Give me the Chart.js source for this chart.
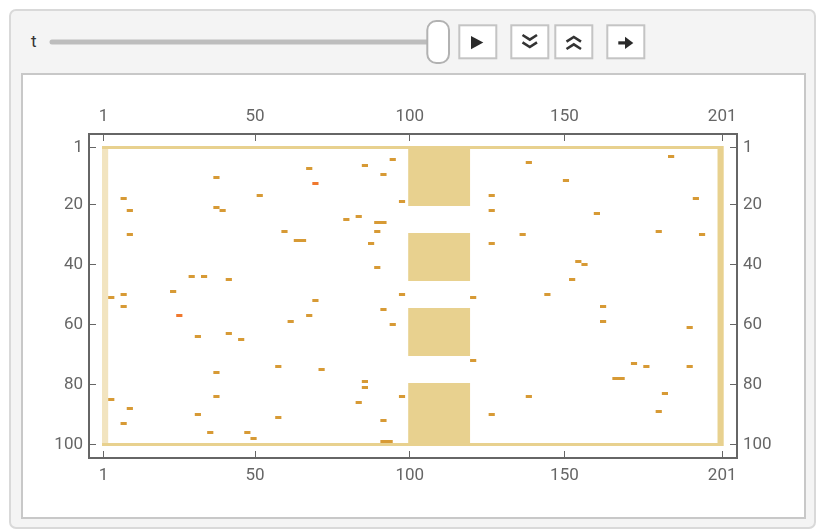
<!DOCTYPE html>
<html>
<head>
<meta charset="utf-8">
<title>ArrayPlot t</title>
<script src="https://cdn.jsdelivr.net/npm/chart.js@4.4.1/dist/chart.umd.min.js"></script>
<style>
  html, body { margin: 0; padding: 0; background: #fff; width: 824px; height: 532px; overflow: hidden;
               font-family: Roboto, "Noto Sans", sans-serif; }
  #outerPanel { position: absolute; left: 9px; top: 9px; width: 807px; height: 520px; box-sizing: border-box;
                background: #f4f4f4; border: 2px solid #d9d9d9; border-radius: 7px; }
  #innerPanel { position: absolute; left: 21px; top: 73px; width: 785px; height: 446px; box-sizing: border-box;
                background: #fff; border: 2px solid #c8c8c8; }
  #tLabel { position: absolute; left: 31px; top: 31px; font-size: 17px; line-height: 20px; color: #333; }
  #controls { position: absolute; left: 0; top: 0; }
  #chart { position: absolute; left: 0; top: 0; }
</style>
</head>
<body>
<div id="outerPanel"></div>
<div id="innerPanel"></div>
<div id="tLabel">t</div>
<svg id="controls" width="824" height="74">
  <line x1="52" y1="42" x2="432" y2="42" stroke="#bdbdbd" stroke-width="5" stroke-linecap="round"/>
  <rect x="427.3" y="21" width="21.7" height="42" rx="9" fill="#fff" stroke="#b2b2b2" stroke-width="2"/>
  <!-- play -->
  <rect x="459.3" y="25.3" width="37" height="33" fill="#fff" stroke="#c4c4c4" stroke-width="2"/>
  <path d="M471 36 L483.3 42.6 L471 49.3 Z" fill="#2a2a2a"/>
  <!-- slower -->
  <rect x="511.3" y="25.3" width="37" height="33" fill="#fff" stroke="#c4c4c4" stroke-width="2"/>
  <path d="M522.5 35 L529.8 39.6 L537 35 M522.5 42.4 L529.8 47 L537 42.4" fill="none" stroke="#333" stroke-width="2.6"/>
  <!-- faster -->
  <rect x="555.3" y="25.3" width="37" height="33" fill="#fff" stroke="#c4c4c4" stroke-width="2"/>
  <path d="M566.5 41.6 L573.8 37 L581 41.6 M566.5 49 L573.8 44.4 L581 49" fill="none" stroke="#333" stroke-width="2.6"/>
  <!-- direction -->
  <rect x="607.3" y="25.3" width="37" height="33" fill="#fff" stroke="#c4c4c4" stroke-width="2"/>
  <rect x="618.3" y="41.3" width="8" height="3.2" fill="#2a2a2a"/>
  <path d="M625 36.7 L633.3 42.9 L625 49 Z" fill="#2a2a2a"/>
</svg>
<canvas id="chart" width="824" height="532"></canvas>
<script>
// ===================================================
// Data (rows top to bottom, columns left to right)
// ===================================================
const nRows = 100;
const nCols = 201;
const xTickValues = [1, 50, 100, 150, 201];
const yTickValues = [1, 20, 40, 60, 80, 100];

// --- beige blocks in the middle band ---
const blockRowStart = [2, 30, 55, 80];
const blockRowEnd = [20, 45, 70, 99];
const blockColStart = 100;
const blockColEnd = 119;

// --- orange dashes: row, first column, length in cells ---
const dashRow = [
    11, 17, 18, 21, 22, 22, 29, 32, 30, 44, 44, 45, 49, 50, 51, 8,
    5, 7, 10, 19, 24, 25, 26, 29, 33, 41, 50, 52, 17, 22, 33, 51,
    4, 6, 12, 18, 23, 30, 29, 30, 39, 40, 45, 50,
    54, 57, 59, 64, 63, 65, 74, 76, 84, 85, 88, 90, 91, 93, 96, 96, 98,
    55, 60, 72, 75, 79, 81, 84, 86, 92, 99, 90,
    54, 59, 61, 73, 74, 74, 78, 84, 83, 89
];
const dashCol = [
    37, 51, 7, 37, 39, 9, 59, 63, 9, 29, 33, 41, 23, 7, 3, 67,
    94, 85, 91, 97, 83, 79, 89, 89, 87, 89, 97, 69, 126, 126, 126, 120,
    184, 138, 150, 192, 160, 136, 180, 194, 154, 156, 152, 144,
    7, 67, 61, 31, 41, 45, 57, 37, 37, 3, 9, 31, 57, 7, 35, 47, 49,
    91, 94, 120, 71, 85, 85, 97, 83, 91, 91, 126,
    162, 162, 190, 172, 176, 190, 166, 138, 182, 180
];
const dashLen = [
    2, 2, 2, 2, 2, 2, 2, 4, 2, 2, 2, 2, 2, 2, 2, 2,
    2, 2, 2, 2, 2, 2, 4, 2, 2, 2, 2, 2, 2, 2, 2, 2,
    2, 2, 2, 2, 2, 2, 2, 2, 2, 2, 2, 2,
    2, 2, 2, 2, 2, 2, 2, 2, 2, 2, 2, 2, 2, 2, 2, 2, 2,
    2, 2, 2, 2, 2, 2, 2, 2, 2, 4, 2,
    2, 2, 2, 2, 2, 2, 4, 2, 2, 2
];

// --- red-orange dashes ---
const hotRow = [13, 57];
const hotCol = [69, 25];
const hotLen = [2, 2];

// --- colours ---
const BEIGE = "#e8d18f";
const BEIGE_LIGHT = "#f2e4c0";
const ORANGE = "#d79a35";
const HOT = "#f0782e";
const AXIS = "#666666";

// ===================================================
// Build horizontal segments for the bar chart
// ===================================================
const segments = [];
const segColors = [];

function addSegment(row, c0, c1, color) {
    segments.push({ y: row, x: [c0 - 0.5, c1 + 0.5] });
    segColors.push(color);
}

// frame of the array
addSegment(1, 1, nCols, BEIGE);
addSegment(nRows, 1, nCols, BEIGE);
for (let r = 2; r < nRows; r++) {
    addSegment(r, 1, 2, BEIGE_LIGHT);
    addSegment(r, nCols - 1, nCols, BEIGE);
}

// blocks
blockRowStart.forEach(function (r0, i) {
    for (let r = r0; r <= blockRowEnd[i]; r++) {
        addSegment(r, blockColStart, blockColEnd, BEIGE);
    }
});

// dashes
dashRow.forEach(function (r, i) {
    addSegment(r, dashCol[i], dashCol[i] + dashLen[i] - 1, ORANGE);
});
hotRow.forEach(function (r, i) {
    addSegment(r, hotCol[i], hotCol[i] + hotLen[i] - 1, HOT);
});

// ===================================================
// Axis helpers
// ===================================================
const X_MIN = -3.7, X_MAX = 205.8;   // plot range padding around 0.5 .. 201.5
const Y_MIN = -3.5, Y_MAX = 104.5;   // plot range padding around 0.5 .. 100.5
const tickFont = { family: "Roboto, 'Noto Sans', sans-serif", size: 17 };

function fixedTicks(values) {
    return function (scale) {
        scale.ticks = values.map(function (v) { return { value: v }; });
    };
}

function xAxis(position, size, pad) {
    return {
        type: "linear",
        position: position,
        min: X_MIN,
        max: X_MAX,
        grid: { display: false, drawTicks: false },
        border: { display: false },
        afterBuildTicks: fixedTicks(xTickValues),
        afterFit: function (scale) { scale.height = size; },
        ticks: {
            color: AXIS,
            font: tickFont,
            padding: pad,
            maxRotation: 0,
            autoSkip: false,
            callback: function (v) { return String(v); },
        },
    };
}

function yAxis(position, size, pad) {
    return {
        type: "linear",
        position: position,
        reverse: true,
        offset: false,
        min: Y_MIN,
        max: Y_MAX,
        grid: { display: false, drawTicks: false, offset: false },
        border: { display: false },
        afterBuildTicks: fixedTicks(yTickValues),
        afterFit: function (scale) { scale.width = size; },
        ticks: {
            color: AXIS,
            font: tickFont,
            padding: pad,
            autoSkip: false,
            callback: function (v) { return String(v); },
        },
    };
}

// frame + inward tick marks, like the original plot
const frameTicks = {
    id: "frameTicks",
    afterDraw: function (chart) {
        const ctx = chart.ctx;
        const a = chart.chartArea;
        const sx = chart.scales.x;
        const sy = chart.scales.y;
        ctx.save();
        ctx.strokeStyle = AXIS;
        ctx.lineWidth = 1;
        ctx.beginPath();
        xTickValues.forEach(function (v) {
            const px = Math.floor(sx.getPixelForValue(v)) + 0.5;
            ctx.moveTo(px, a.top);
            ctx.lineTo(px, a.top + 7);
            ctx.moveTo(px, a.bottom);
            ctx.lineTo(px, a.bottom - 7);
        });
        yTickValues.forEach(function (v) {
            const py = Math.floor(sy.getPixelForValue(v)) + 0.5;
            ctx.moveTo(a.left, py);
            ctx.lineTo(a.left + 7, py);
            ctx.moveTo(a.right, py);
            ctx.lineTo(a.right - 7, py);
        });
        ctx.stroke();
        ctx.lineWidth = 2;
        ctx.strokeRect(a.left, a.top, a.right - a.left, a.bottom - a.top);
        ctx.restore();
    },
};

// ===================================================
// Chart
// ===================================================
new Chart(document.getElementById("chart").getContext("2d"), {
    type: "bar",
    data: {
        datasets: [{
            data: segments,
            backgroundColor: segColors,
            borderWidth: 0,
            borderSkipped: false,
            inflateAmount: 0,
            barPercentage: 1,
            categoryPercentage: 1,
            xAxisID: "x",
            yAxisID: "y",
        }],
    },
    options: {
        indexAxis: "y",
        responsive: false,
        devicePixelRatio: 1,
        animation: false,
        events: [],
        layout: { padding: 0 },
        plugins: {
            legend: { display: false },
            tooltip: { enabled: false },
        },
        scales: {
            x: xAxis("bottom", 74, 8),
            x2: xAxis("top", 134, 7),
            y: yAxis("left", 89, 6),
            y2: yAxis("right", 87, 6),
        },
    },
    plugins: [frameTicks],
});
</script>
</body>
</html>
